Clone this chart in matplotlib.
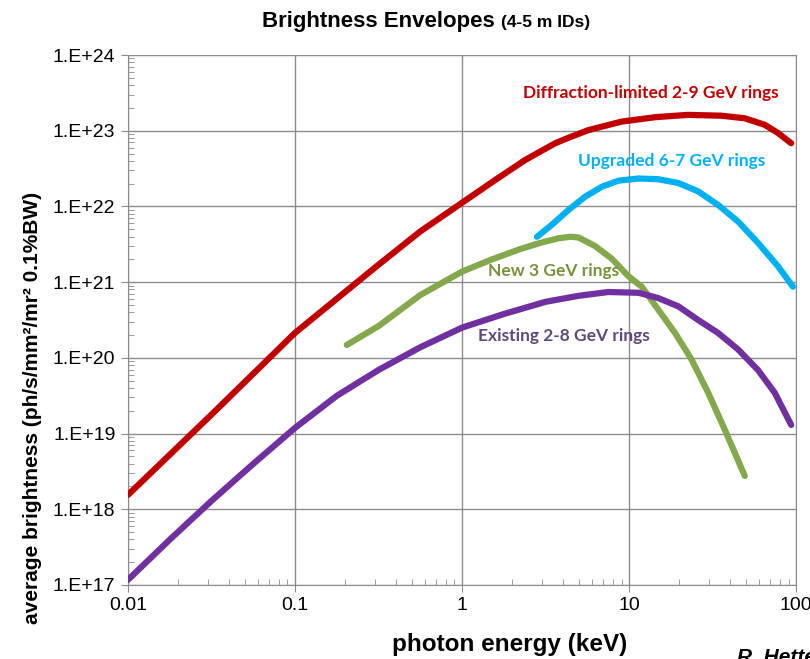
import math

import matplotlib
matplotlib.use("Agg")
import matplotlib.pyplot as plt
from matplotlib.ticker import LogLocator, FuncFormatter, NullFormatter

# photon energy (keV) and average brightness
dl_energy = [0.01, 0.0316, 0.1, 0.316, 0.562, 1, 1.58, 2.39, 3.61, 4.47, 5.7, 9.02, 14.3,
             22.5, 35.6, 49.2, 64.7, 77.8, 93.3]
dl_bright = [1.55e18, 1.78e19, 2.14e20, 1.7e21, 4.68e21, 1.12e22, 2.24e22, 4.12e22,
             6.84e22, 8.3e22, 1.02e23, 1.32e23, 1.51e23, 1.62e23, 1.58e23, 1.46e23, 1.2e23,
             9.33e22, 6.84e22]

up_energy = [2.81, 3.44, 4.34, 5.46, 6.86, 8.63, 11.35, 14.9, 19.7, 25.9, 34.0, 44.9,
             59.0, 77.8, 95.5]
up_bright = [3.98e21, 5.71e21, 9.02e21, 1.35e22, 1.82e22, 2.19e22, 2.34e22, 2.29e22,
             2.04e22, 1.58e22, 1.05e22, 6.31e21, 3.31e21, 1.62e21, 8.71e20]

new_energy = [0.204, 0.316, 0.562, 1, 1.51, 2.24, 2.95, 3.78, 4.47, 4.98, 6.25, 7.87, 9.89,
              11.9, 14.9, 18.8, 23.6, 29.7, 37.4, 42.9, 49.2]
new_bright = [1.48e20, 2.63e20, 6.76e20, 1.38e21, 2.0e21, 2.75e21, 3.31e21, 3.8e21,
              3.98e21, 3.89e21, 3.0e21, 2.04e21, 1.2e21, 8.71e20, 4.37e20, 2.14e20, 9.55e19,
              3.47e19, 1.12e19, 5.56e18, 2.75e18]

ex_energy = [0.01, 0.0178, 0.0316, 0.0562, 0.1, 0.178, 0.316, 0.562, 1, 1.78, 3.16,
             4.98, 7.5, 11.35, 14.9, 19.7, 25.9, 34.0, 44.9, 59.0, 74.3, 93.3]
ex_bright = [1.17e17, 3.98e17, 1.29e18, 3.98e18, 1.19e19, 3.16e19, 6.92e19, 1.38e20,
             2.51e20, 3.8e20, 5.5e20, 6.6e20, 7.41e20, 7.24e20, 6.17e20, 4.79e20,
             3.16e20, 2.14e20, 1.29e20, 6.92e19, 3.47e19, 1.3e19]

series = [
    (dl_energy, dl_bright, "#C00000", "Diffraction-limited 2-9 GeV rings", "#C00000", 0.591, 0.928),
    (up_energy, up_bright, "#00B0F0", "Upgraded 6-7 GeV rings", "#00B0F0", 0.674, 0.800),
    (new_energy, new_bright, "#84A84C", "New 3 GeV rings", "#76923C", 0.539, 0.592),
    (ex_energy, ex_bright, "#7030A0", "Existing 2-8 GeV rings", "#60497A", 0.524, 0.470),
]

plt.rcParams["font.family"] = ["Liberation Sans", "DejaVu Sans"]

fig = plt.figure(figsize=(8.1, 6.59), dpi=100)
ax = fig.add_axes([0.158, 0.1123, 0.825, 0.8042])

for xs, ys, color, label, tcolor, tx, ty in series:
    ax.plot(xs, ys, color=color, lw=4.5, solid_capstyle="round", solid_joinstyle="round", zorder=3)
    ax.text(tx, ty, label, transform=ax.transAxes, color=tcolor, fontsize=12.5,
            fontweight="bold", family="Lato", ha="left", va="center", zorder=4)

ax.set_xscale("log")
ax.set_yscale("log")
ax.set_xlim(0.01, 100)
ax.set_ylim(1e17, 1e24)

ax.xaxis.set_major_locator(LogLocator(base=10, numticks=10))
ax.xaxis.set_minor_locator(LogLocator(base=10, subs=range(2, 10), numticks=20))
ax.yaxis.set_major_locator(LogLocator(base=10, numticks=10))
ax.yaxis.set_minor_locator(LogLocator(base=10, subs=range(2, 10), numticks=20))
ax.xaxis.set_major_formatter(FuncFormatter(lambda v, p: f"{v:g}"))
ax.yaxis.set_major_formatter(FuncFormatter(lambda v, p: f"1.E+{int(round(math.log10(v))):02d}"))
ax.xaxis.set_minor_formatter(NullFormatter())
ax.yaxis.set_minor_formatter(NullFormatter())

ax.grid(True, which="major", color="#8c8c8c", lw=1)
ax.tick_params(which="major", direction="out", length=5, color="#8c8c8c", labelsize=14, pad=4)
ax.tick_params(which="minor", direction="in", length=4, color="#8c8c8c")
for s in ax.spines.values():
    s.set_color("#8c8c8c")

fig.text(33 / 810, 1 - 408 / 659, "average brightness (ph/s/mm\u00b2/mr\u00b2 0.1%BW)",
         fontsize=15, fontweight="bold", rotation=90, ha="center", va="center")
fig.text(510 / 810, 1 - 645 / 659, "photon energy (keV)", fontsize=17.5, fontweight="bold",
         ha="center", va="center")

title = fig.text(262 / 810, 1 - 27 / 659, "Brightness Envelopes ", fontsize=16, fontweight="bold",
                 ha="left", va="baseline")
fig.canvas.draw()
bb = title.get_window_extent()
fig.text(bb.x1 / fig.bbox.width, 1 - 27 / 659, "(4-5 m IDs)", fontsize=12.5,
         fontweight="bold", ha="left", va="baseline")

fig.text(737 / 810, 1 - 648 / 659, "R. Hettel", fontsize=15, fontweight="bold", style="italic",
         ha="left", va="top")

fig.savefig("out.png", dpi=100)
